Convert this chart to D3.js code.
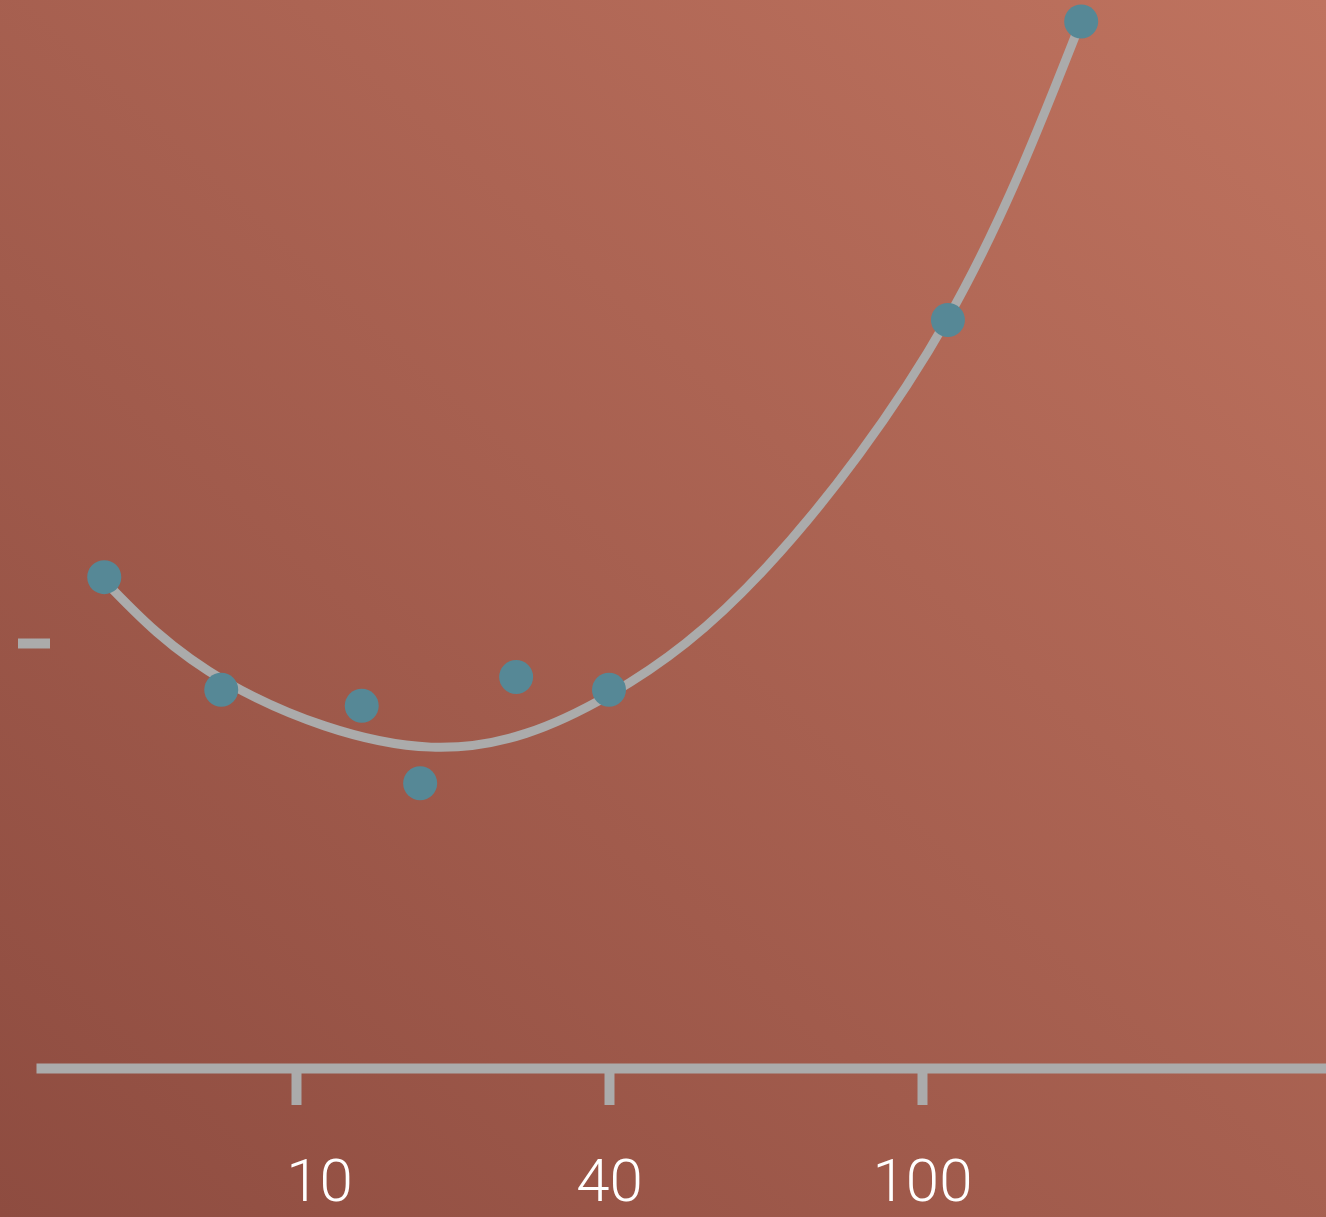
<!DOCTYPE html>
<html>
<head>
<meta charset="utf-8">
<script src="https://cdn.jsdelivr.net/npm/d3@7"></script>
<style>
  html, body { margin: 0; padding: 0; background: #a65f50; }
  svg { display: block; }
</style>
</head>
<body>
<svg id="chart" width="1326" height="1217"></svg>
<script>
// ---- data ----
const xTickValues = [10, 40, 100];
const xTickLabels = ["10", "40", "100"];
const yTickValues = [4];

// observed points
const pointX = [4.1, 7.7, 16.3, 21.9, 31.1, 40, 104.3, 126.4];
const pointY = [4.62, 3.56, 3.41, 2.68, 3.68, 3.56, 7.04, 9.85];

// fitted trend curve
const curveX = [4.09, 7.88, 22.94, 40, 70.29, 104.31, 126.37];
const curveY = [4.59, 3.63, 3.02, 3.51, 4.72, 7.06, 9.85];

// ---- layout ----
const W = 1326, H = 1217;
const axisY = 1068;
const svg = d3.select("#chart");

const defs = svg.append("defs");
const grad = defs.append("linearGradient")
  .attr("id", "bg")
  .attr("x1", 0).attr("y1", 1).attr("x2", 1).attr("y2", 0);
grad.append("stop").attr("offset", "0%").attr("stop-color", "#8e4c40");
grad.append("stop").attr("offset", "100%").attr("stop-color", "#bf735f");

svg.append("rect").attr("width", W).attr("height", H).attr("fill", "url(#bg)");

// piecewise x scale (tick spacing is even between 10, 40 and 100)
const x = d3.scaleLinear()
  .domain([2, 10, 40, 100, 167])
  .range([36, 296, 609, 922, 1326]);

const y = d3.scaleLinear()
  .domain([0, 10])
  .range([axisY, 5.5]);

const lineColor = "#ababab";

// x axis
const xAxis = d3.axisBottom(x)
  .tickValues(xTickValues)
  .tickSize(37)
  .tickSizeOuter(0)
  .tickFormat((d, i) => xTickLabels[i]);

const gx = svg.append("g")
  .attr("transform", `translate(0,${axisY})`)
  .call(xAxis);
gx.select(".domain").attr("stroke", lineColor).attr("stroke-width", 10);
gx.selectAll(".tick line").attr("stroke", lineColor).attr("stroke-width", 10);
gx.selectAll(".tick text")
  .attr("y", 133)
  .attr("dy", 0)
  .attr("dx", d => d === 10 ? 23 : 0)
  .attr("fill", "#ffffff")
  .style("font-family", "Roboto, 'Liberation Sans', sans-serif")
  .style("font-weight", 300)
  .style("font-size", "60px");

// y axis (tick only)
const yAxis = d3.axisLeft(y)
  .tickValues(yTickValues)
  .tickSize(32)
  .tickFormat("");
const gy = svg.append("g")
  .attr("transform", "translate(50,0)")
  .call(yAxis);
gy.select(".domain").remove();
gy.selectAll(".tick line").attr("stroke", lineColor).attr("stroke-width", 10);

// trend curve
const curveData = curveX.map((v, i) => [v, curveY[i]]);
const line = d3.line()
  .x(d => x(d[0]))
  .y(d => y(d[1]))
  .curve(d3.curveNatural);
svg.append("path")
  .datum(curveData)
  .attr("d", line)
  .attr("fill", "none")
  .attr("stroke", lineColor)
  .attr("stroke-width", 9)
  .attr("stroke-linecap", "round");

// points
const pts = pointX.map((v, i) => [v, pointY[i]]);
svg.append("g").selectAll("circle")
  .data(pts)
  .join("circle")
  .attr("cx", d => x(d[0]))
  .attr("cy", d => y(d[1]))
  .attr("r", 17)
  .attr("fill", "#568896");
</script>
</body>
</html>
